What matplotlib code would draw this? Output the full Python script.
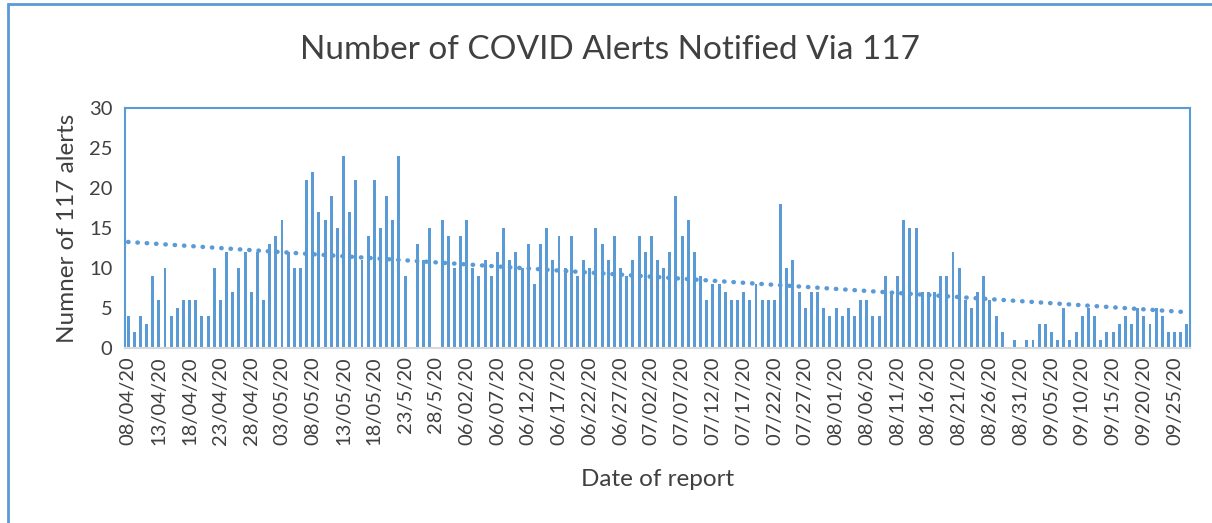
import matplotlib.pyplot as plt
import numpy as np
from matplotlib.patches import Rectangle

# daily number of 117 alerts, 08/04/20 .. 27/09/20
alerts = [4, 2, 4, 3, 9, 6, 10, 4, 5, 6, 6, 6, 4, 4, 10,
          6, 12, 7, 10, 12, 7, 12, 6, 13, 14, 16, 12, 10, 10,
          21, 22, 17, 16, 19, 15, 24, 17, 21, 11, 14, 21, 15,
          19, 16, 24, 9, 0, 13, 11, 15, 0, 16, 14, 10, 14, 16,
          10, 9, 11, 9, 12, 15, 11, 12, 10, 13, 8, 13, 15, 11,
          14, 10, 14, 9, 11, 10, 15, 13, 11, 14, 10, 9, 11, 14,
          12, 14, 11, 10, 12, 19, 14, 16, 12, 9, 6, 8, 8, 7,
          6, 6, 7, 6, 8, 6, 6, 6, 18, 10, 11, 7, 5,
          7, 7, 5, 4, 5, 4, 5, 4, 6, 6, 4, 4, 9, 7,
          9, 16, 15, 15, 7, 7, 7, 9, 9, 12, 10, 6, 5, 7,
          9, 6, 4, 2, 0, 1, 0, 1, 1, 3, 3, 2, 1, 5, 1, 2,
          4, 5, 4, 1, 2, 2, 3, 4, 3, 5, 4, 3, 5, 4, 2, 2, 2, 3]

tick_labels = ['08/04/20', '13/04/20', '18/04/20', '23/04/20', '28/04/20',
               '03/05/20', '08/05/20', '13/05/20', '18/05/20', '23/5/20',
               '28/5/20', '06/02/20', '06/07/20', '06/12/20', '06/17/20',
               '06/22/20', '06/27/20', '07/02/20', '07/07/20', '07/12/20',
               '07/17/20', '07/22/20', '07/27/20', '08/01/20', '08/06/20',
               '08/11/20', '08/16/20', '08/21/20', '08/26/20', '08/31/20',
               '09/05/20', '09/10/20', '09/15/20', '09/20/20', '09/25/20']

blue = '#5B9BD5'
plt.rcParams['font.family'] = ['Lato', 'DejaVu Sans']

days = np.arange(len(alerts))
fig = plt.figure(figsize=(12.12, 5.23), dpi=100)
ax = fig.add_axes([125 / 1212, 1 - 348 / 523, 1065 / 1212, 240 / 523])

ax.bar(days, alerts, width=0.48, color=blue)

# linear trend line
k, b = np.polyfit(days, alerts, 1)
ax.plot(days, k * days + b, linestyle=(0, (0.1, 2.0)), color=blue,
        linewidth=3.2, dash_capstyle='round')

ax.set_xlim(-0.5, len(alerts) - 0.5)
ax.set_ylim(0, 30)
ax.set_yticks(range(0, 31, 5))
ax.set_xticks(days[::5], labels=tick_labels, rotation=90)
ax.tick_params(axis='both', length=0, labelsize=14.5, colors='#404040')
ax.tick_params(axis='x', pad=6)
ax.tick_params(axis='y', pad=9)

for s in ['left', 'top', 'right']:
    ax.spines[s].set_color(blue)
    ax.spines[s].set_linewidth(1.5)
ax.spines['bottom'].set_color('#D9D9D9')
ax.spines['bottom'].set_linewidth(1.5)

ax.set_xlabel('Date of report', fontsize=17.5, color='#404040', labelpad=17)
ax.set_ylabel('Numner of 117 alerts', fontsize=17.5, color='#404040', labelpad=8)
fig.text(610 / 1212, 1 - 50 / 523, 'Number of COVID Alerts Notified Via 117',
         fontsize=24, color='#404040', ha='center', va='center')

# outer chart border
fig.patches.append(Rectangle((8 / 1212, -0.1), 1.2, 1.1 - 4 / 523, transform=fig.transFigure,
                             fill=False, edgecolor=blue, linewidth=2))

fig.savefig('out.png', dpi=100)
